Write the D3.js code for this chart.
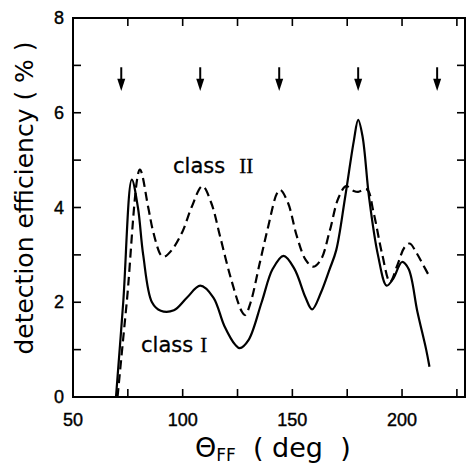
<!DOCTYPE html>
<html>
<head>
<meta charset="utf-8">
<script src="https://cdn.jsdelivr.net/npm/d3@7"></script>
<style>
  body { margin: 0; background: #fff; }
  svg { display: block; }
</style>
</head>
<body>
<svg width="466" height="464"></svg>
<script>
// class I (solid), angle in deg vs efficiency in %
const classIAngle = [69.6, 72.9, 76.8, 79.6, 82, 86, 90, 96, 102, 108, 114, 119, 124, 126, 130, 136, 141, 146, 151, 156, 159, 163, 167, 170, 174, 178, 180, 182, 185, 189, 193, 196, 200, 203, 207, 211, 212.5];
const classIEff = [0, 2.0, 4.59, 4.0, 3.0, 2.0, 1.82, 1.83, 2.1, 2.35, 2.1, 1.5, 1.1, 1.03, 1.2, 2.0, 2.7, 2.98, 2.7, 2.1, 1.85, 2.2, 2.7, 3.1, 4.2, 5.4, 5.85, 5.5, 4.2, 3.0, 2.35, 2.5, 2.85, 2.7, 1.8, 1.0, 0.64];

// class II (dashed)
const classIIAngle = [70.3, 74.5, 80.5, 84.3, 86.5, 90, 91.5, 95, 100, 104, 109, 113, 117, 122, 127, 128.5, 131, 135, 139, 143, 144.5, 148, 152, 156, 159.5, 163, 167, 171, 174.5, 178, 180, 184, 187, 191, 194.5, 198, 201, 203.5, 206.5, 209.5, 212.5];
const classIIEff = [0, 2.0, 4.8, 4.0, 3.5, 3.0, 2.96, 3.1, 3.5, 4.0, 4.45, 4.1, 3.4, 2.5, 1.8, 1.73, 2.0, 2.8, 3.6, 4.3, 4.37, 4.1, 3.4, 2.9, 2.75, 2.9, 3.5, 4.2, 4.45, 4.35, 4.33, 4.38, 3.9, 3.0, 2.43, 2.8, 3.15, 3.24, 3.05, 2.8, 2.54];

// arrows marking expected angles
const arrowAngles = [72, 108, 144, 180, 216];

const xTicks = [50, 100, 150, 200];
const xMinor = [75, 125, 175, 225];
const yTicks = [0, 2, 4, 6, 8];
const yMinor = [1, 3, 5, 7];

const svg = d3.select('svg');
const x = d3.scaleLinear().domain([50, 228.7]).range([73, 465]);
const y = d3.scaleLinear().domain([0, 8]).range([397, 18]);

const sansFont = 'Liberation Sans, Arial, sans-serif';

// frame
svg.append('rect')
  .attr('x', x(50)).attr('y', y(8))
  .attr('width', x(228.7) - x(50)).attr('height', y(0) - y(8))
  .attr('fill', 'none').attr('stroke', '#000').attr('stroke-width', 2);

// ticks, pointing inward on all four sides
const tickLen = 8;
const allX = xTicks.concat(xMinor).filter(d => d > 50);
const allY = yTicks.concat(yMinor).filter(d => d > 0 && d < 8);

svg.selectAll('.xtb').data(allX).enter().append('line')
  .attr('x1', d => x(d)).attr('x2', d => x(d))
  .attr('y1', y(0)).attr('y2', y(0) - tickLen)
  .attr('stroke', '#000').attr('stroke-width', 1.6);
svg.selectAll('.xtt').data(allX).enter().append('line')
  .attr('x1', d => x(d)).attr('x2', d => x(d))
  .attr('y1', y(8)).attr('y2', y(8) + tickLen)
  .attr('stroke', '#000').attr('stroke-width', 1.6);
svg.selectAll('.ytl').data(allY).enter().append('line')
  .attr('x1', x(50)).attr('x2', x(50) + tickLen)
  .attr('y1', d => y(d)).attr('y2', d => y(d))
  .attr('stroke', '#000').attr('stroke-width', 1.6);
svg.selectAll('.ytr').data(allY).enter().append('line')
  .attr('x1', x(228.7)).attr('x2', x(228.7) - tickLen)
  .attr('y1', d => y(d)).attr('y2', d => y(d))
  .attr('stroke', '#000').attr('stroke-width', 1.6);

// tick labels
svg.selectAll('.xl').data(xTicks).enter().append('text')
  .attr('x', d => x(d)).attr('y', 426)
  .attr('text-anchor', 'middle')
  .attr('font-family', sansFont).attr('font-size', 18)
  .attr('stroke', '#000').attr('stroke-width', 0.4)
  .text(d => d);
svg.selectAll('.yl').data(yTicks).enter().append('text')
  .attr('x', 64).attr('y', d => y(d) + 6)
  .attr('text-anchor', 'end')
  .attr('font-family', sansFont).attr('font-size', 18)
  .attr('stroke', '#000').attr('stroke-width', 0.4)
  .text(d => d);

// curves
const line = d3.line()
  .x(d => x(d[0]))
  .y(d => y(d[1]))
  .curve(d3.curveCatmullRom.alpha(0.5));

svg.append('path')
  .datum(d3.zip(classIAngle, classIEff))
  .attr('d', line)
  .attr('fill', 'none').attr('stroke', '#000').attr('stroke-width', 2.2);

svg.append('path')
  .datum(d3.zip(classIIAngle, classIIEff))
  .attr('d', line)
  .attr('fill', 'none').attr('stroke', '#000').attr('stroke-width', 2.2)
  .attr('stroke-dasharray', '9,5');

// arrows
const arr = svg.selectAll('.arrow').data(arrowAngles).enter().append('g');
arr.append('line')
  .attr('x1', d => x(d)).attr('x2', d => x(d))
  .attr('y1', y(6.96)).attr('y2', y(6.65))
  .attr('stroke', '#000').attr('stroke-width', 2);
arr.append('path')
  .attr('d', d => `M${x(d) - 4},${y(6.72)}L${x(d) + 4},${y(6.72)}L${x(d)},${y(6.46)}Z`)
  .attr('fill', '#000');

// class labels
const lab2 = svg.append('text').attr('x', 173).attr('y', 173)
  .attr('font-family', 'DejaVu Sans, sans-serif').attr('font-size', 21)
  .attr('stroke', '#000').attr('stroke-width', 0.3);
lab2.append('tspan').text('class');
lab2.append('tspan').attr('dx', 14)
  .attr('font-family', 'Liberation Serif, serif').attr('font-size', 21).text('II');

const lab1 = svg.append('text').attr('x', 141).attr('y', 352)
  .attr('font-family', 'DejaVu Sans, sans-serif').attr('font-size', 21)
  .attr('stroke', '#000').attr('stroke-width', 0.3);
lab1.append('tspan').text('class');
lab1.append('tspan').attr('dx', 7)
  .attr('font-family', 'Liberation Serif, serif').attr('font-size', 21).text('I');

// axis titles
svg.append('text')
  .attr('transform', 'translate(33,198) rotate(-90)')
  .attr('text-anchor', 'middle')
  .attr('font-family', 'DejaVu Sans, sans-serif').attr('font-size', 25)
  .text('detection efficiency ( % )');

const xt = svg.append('text')
  .attr('x', 195).attr('y', 457)
  .attr('font-family', 'DejaVu Sans, sans-serif').attr('font-size', 27)
  .attr('xml:space', 'preserve');
xt.append('tspan').text('\u0398');
xt.append('tspan').attr('font-size', 17).attr('dy', 4).text('FF');
xt.append('tspan').attr('dy', -4).text('  ( deg  )');
</script>
</body>
</html>
